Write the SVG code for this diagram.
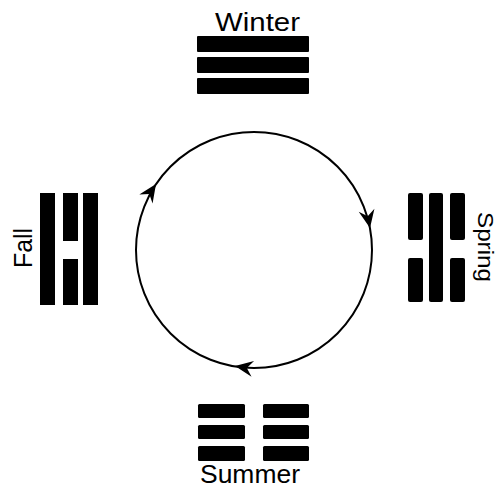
<svg xmlns="http://www.w3.org/2000/svg" width="500" height="489" viewBox="0 0 500 489">
<style>
.bar{fill:#000}
.lbl{font-family:"Liberation Sans",Arial,sans-serif;fill:#000}
.ring{fill:none;stroke:#000;stroke-width:2}
</style>
<defs>
<path id="ah" d="M0,0 L-18,-8 L-12,0 L-18,8 Z" fill="#000"/>
</defs>
<rect width="500" height="489" fill="#fff"/>
<g id="connectors">
<circle class="ring" cx="254" cy="250" r="118"/>
<use href="#ah" transform="translate(156,184) rotate(-56)"/>
<use href="#ah" transform="translate(370,228) rotate(79)"/>
<use href="#ah" transform="translate(235,366) rotate(189)"/>
</g>
<g id="winter">
<text class="lbl" x="257.5" y="31" font-size="25" text-anchor="middle" textLength="85" lengthAdjust="spacingAndGlyphs">Winter</text>
<rect class="bar" x="197" y="36" width="112" height="16" rx="1"/>
<rect class="bar" x="197" y="57" width="112" height="16" rx="1"/>
<rect class="bar" x="197" y="78" width="112" height="16" rx="1"/>
</g>
<g id="spring">
<rect class="bar" x="408" y="193" width="15" height="47" rx="2"/>
<rect class="bar" x="408" y="258" width="15" height="44" rx="2"/>
<rect class="bar" x="429" y="193" width="14" height="109" rx="2"/>
<rect class="bar" x="450" y="193" width="15" height="47" rx="2"/>
<rect class="bar" x="450" y="258" width="15" height="44" rx="2"/>
<text class="lbl" x="0" y="0" font-size="22" text-anchor="middle" textLength="70" lengthAdjust="spacingAndGlyphs" transform="translate(478,247) rotate(90)">Spring</text>
</g>
<g id="summer">
<rect class="bar" x="198" y="404" width="47" height="14" rx="1.5"/>
<rect class="bar" x="263" y="404" width="46" height="14" rx="1.5"/>
<rect class="bar" x="198" y="425" width="47" height="14" rx="1.5"/>
<rect class="bar" x="263" y="425" width="46" height="14" rx="1.5"/>
<rect class="bar" x="198" y="446" width="47" height="15" rx="1.5"/>
<rect class="bar" x="263" y="446" width="46" height="15" rx="1.5"/>
<text class="lbl" x="250" y="483" font-size="25" text-anchor="middle" textLength="100" lengthAdjust="spacingAndGlyphs">Summer</text>
</g>
<g id="fall">
<rect class="bar" x="40" y="193" width="15" height="112"/>
<rect class="bar" x="63" y="193" width="15" height="48"/>
<rect class="bar" x="63" y="259" width="15" height="46"/>
<rect class="bar" x="83" y="193" width="15" height="112"/>
<text class="lbl" x="0" y="0" font-size="25" text-anchor="middle" textLength="40" lengthAdjust="spacingAndGlyphs" transform="translate(32,248) rotate(-90)">Fall</text>
</g>
</svg>
